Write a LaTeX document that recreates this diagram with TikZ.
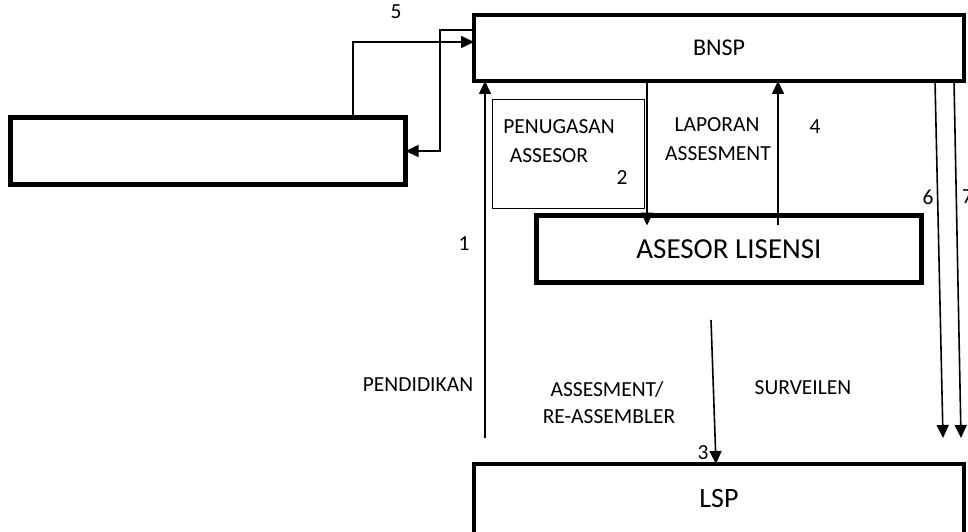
\documentclass[tikz,border=0pt]{standalone}
\usepackage{fontspec}
\setmainfont{Carlito}
\usepackage{tikz}
\usetikzlibrary{arrows.meta}
\tikzset{
  box/.style={rectangle, draw, line width=4.5pt, outer sep=0pt, inner sep=0pt},
  thinbox/.style={rectangle, draw, line width=1pt, outer sep=0pt, inner sep=0pt},
  lbl/.style={font=\fontsize{21.5}{24}\selectfont, inner sep=0pt},
  arr/.style={line width=1.6pt, -{Triangle[length=13pt,width=12pt]}},
  >=Stealth
}

\begin{document}
\begin{tikzpicture}[x=1pt, y=-1pt]
  \useasboundingbox (0,0) rectangle (968,532);
  \node[box, minimum width=490pt, minimum height=66pt, font=\fontsize{24}{27}\selectfont] (bnsp) at (719,48) {BNSP};
  \node[box, minimum width=395pt, minimum height=67pt] (lbox) at (208,151) {};
  \node[thinbox, minimum width=152pt, minimum height=108pt] (tugas) at (568,154) {};
  \node[box, minimum width=385pt, minimum height=67pt, font=\fontsize{29}{33}\selectfont] (ases) at (729,249) {ASESOR LISENSI};
  \node[box, minimum width=490pt, minimum height=70pt, font=\fontsize{28}{32}\selectfont] (lsp) at (719,499) {LSP};
  % labels
  \node[lbl] (n5) at (396,12) {5};
  \node[lbl] (n1) at (464,244) {1};
  \node[lbl] (n2) at (622,178) {2};
  \node[lbl] (n3) at (703,453) {3};
  \node[lbl] (n4) at (815,127) {4};
  \node[lbl] (n6) at (928,197) {6};
  \node[lbl, anchor=west] (n7) at (962,197) {7};
  \node[lbl] (tug1) at (559,127) {PENUGASAN};
  \node[lbl] (tug2) at (549,156) {ASSESOR};
  \node[lbl] (lap1) at (717,125) {LAPORAN};
  \node[lbl] (lap2) at (718,154) {ASSESMENT};
  \node[lbl] (pend) at (418,385) {PENDIDIKAN};
  \node[lbl] (ass1) at (607,389) {ASSESMENT/};
  \node[lbl] (ass2) at (609,417) {RE-ASSEMBLER};
  \node[lbl] (surv) at (803,388) {SURVEILEN};
  % connectors
  \coordinate (s5) at (353,115);
  \coordinate (s1) at (485,438);
  \coordinate (s4) at (778,225);
  \coordinate (s3) at (711,320);
  \coordinate (e6) at (943,438);
  \coordinate (e7) at (961,438);
  \draw[arr] (s5) |- (bnsp.west |- 0,42);
  \draw[arr] (bnsp.west |- 0,30) -| (440,151) -- (lbox.east);
  \draw[arr] (s1) -- (s1 |- bnsp.south);
  \draw[arr] (bnsp.south -| 647,0) -- ([yshift=-10pt]ases.north -| 647,0);
  \draw[arr] (s4) -- (s4 |- bnsp.south);
  \draw[arr] (s3) -- (lsp.north -| 716,0);
  \draw[arr] (bnsp.south -| 935,0) -- (e6);
  \draw[arr] (bnsp.south -| 954,0) -- (e7);
\end{tikzpicture}
\end{document}
